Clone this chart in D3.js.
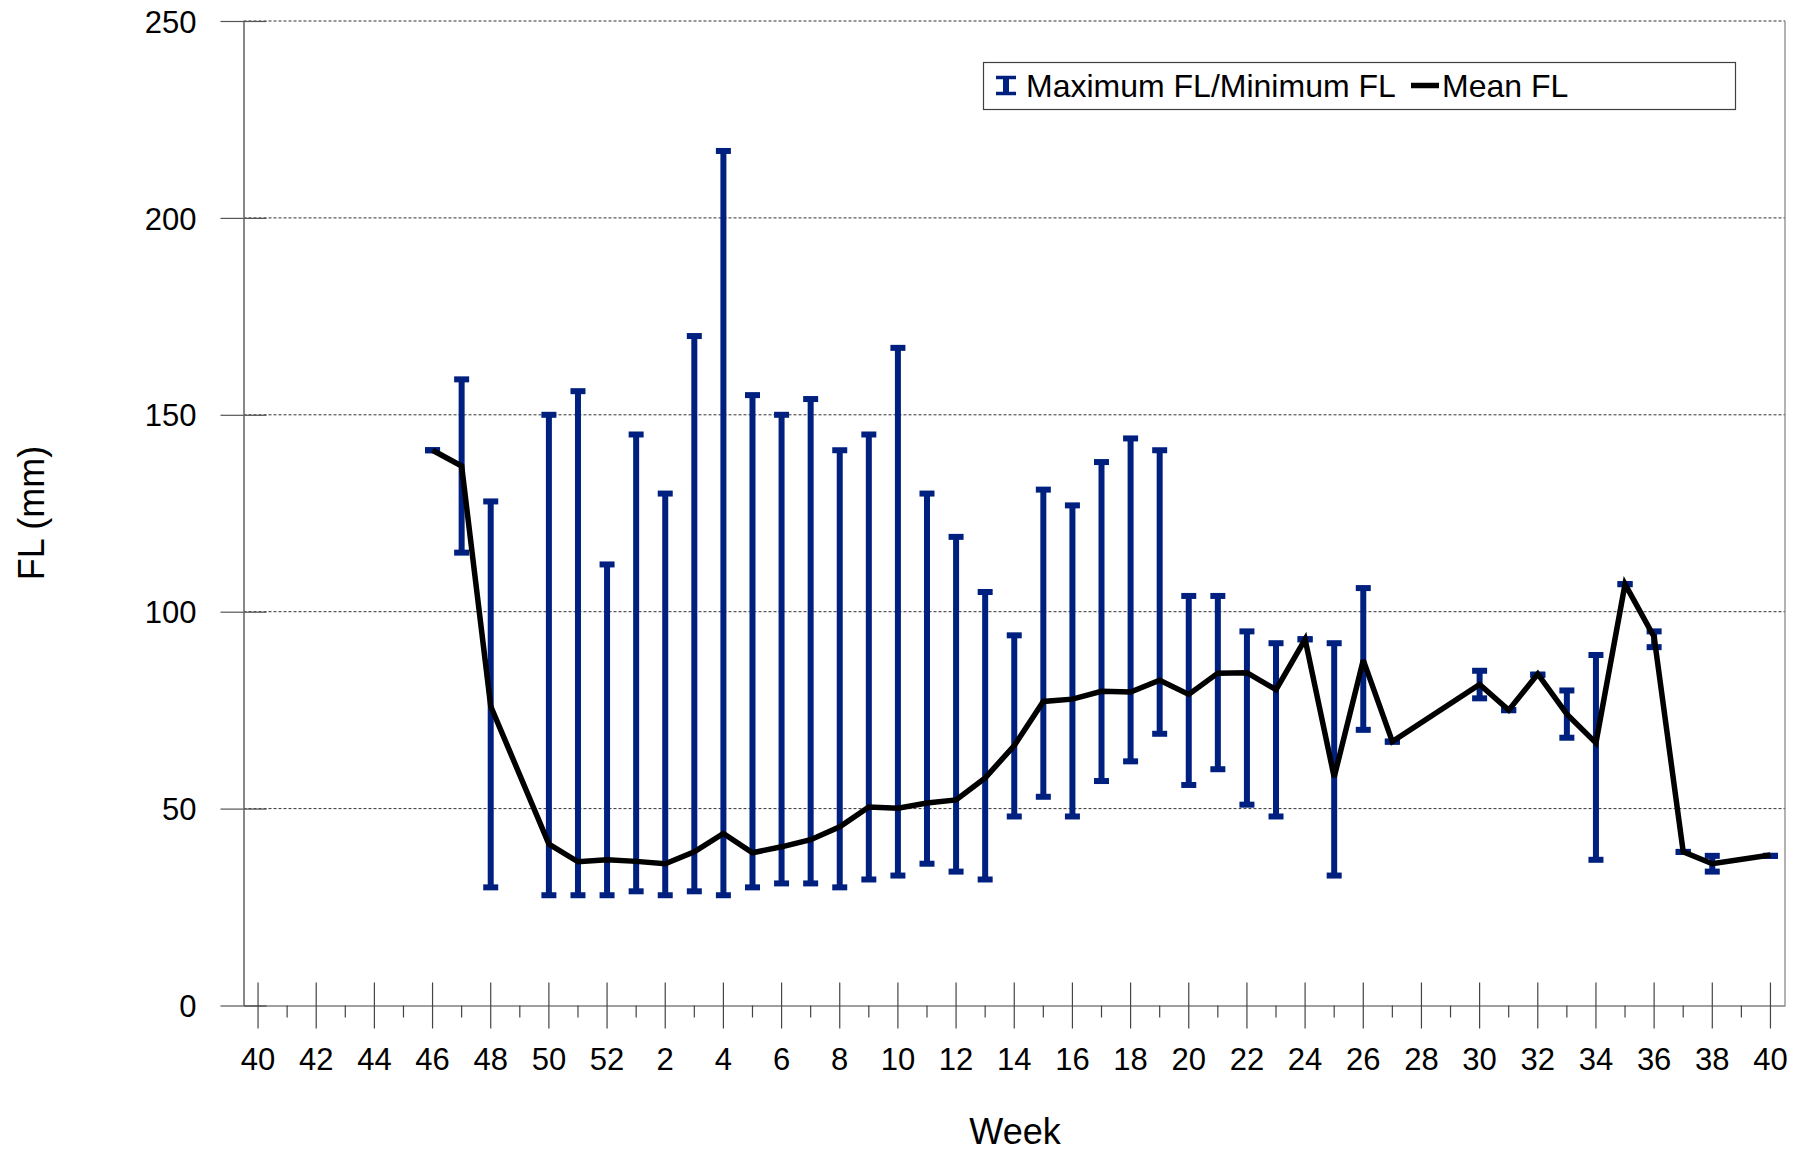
<!DOCTYPE html>
<html>
<head>
<meta charset="utf-8">
<script src="https://cdn.jsdelivr.net/npm/d3@7"></script>
<style>
  body { margin: 0; background: #fff; }
  svg text { font-family: 'Liberation Sans', Arial, sans-serif; fill: #000; }
</style>
</head>
<body>
<svg id="chart" width="1809" height="1152"></svg>
<script>
// week numbers along the x axis (season runs from week 40 to week 40 of next year)
const weeks = [40, 41, 42, 43, 44, 45, 46, 47, 48, 49, 50, 51, 52,
    1, 2, 3, 4, 5, 6, 7, 8, 9, 10, 11, 12, 13, 14, 15, 16, 17, 18, 19, 20,
    21, 22, 23, 24, 25, 26, 27, 28, 29, 30, 31, 32, 33, 34, 35, 36, 37, 38, 39, 40];

const maxFL = [null, null, null, null, null, null, 141, 159, 128, null, 150, 156, 112,
    145, 130, 170, 217, 155, 150, 154, 141, 145, 167, 130, 119, 105, 94, 131, 127, 138, 144, 141, 104,
    104, 95, 92, 93, 92, 106, 67, null, null, 85, 75, 84, 80, 89, 107, 95, 39, 38, null, 38];

const minFL = [null, null, null, null, null, null, 141, 115, 30, null, 28, 28, 28,
    29, 28, 29, 28, 30, 31, 31, 30, 32, 33, 36, 34, 32, 48, 53, 48, 57, 62, 69, 56,
    60, 51, 48, 93, 33, 70, 67, null, null, 78, 75, 84, 68, 37, 107, 91, 39, 34, null, 38];

const meanFL = [null, null, null, null, null, null, 141, 137, 76, null, 41, 36.5, 37,
    36.6, 36, 39, 43.7, 38.8, 40.3, 42.1, 45.4, 50.4, 50.1, 51.4, 52.2, 57.8, 66, 77.2, 77.8, 79.8, 79.6, 82.6, 79,
    84.4, 84.5, 80.2, 93, 58, 87.7, 67, null, null, 81.5, 75, 84.2, 74, 66.7, 107, 93.6, 39, 36, null, 38.2];

const yTicks = [0, 50, 100, 150, 200, 250];

const plot = { left: 243.5, right: 1785, top: 21, bottom: 1005.5 };
const barColor = '#00207f';
const capWidth = 15;

const svg = d3.select('#chart');
const idx = d3.range(weeks.length);

const x = d3.scaleBand()
    .domain(idx)
    .range([plot.left, plot.right]);
const y = d3.scaleLinear()
    .domain([0, 250])
    .range([plot.bottom, plot.top]);
const cx = i => x(i) + x.bandwidth() / 2;

// dashed gridlines
svg.append('g')
    .selectAll('line')
    .data(yTicks.filter(v => v > 0))
    .enter()
    .append('line')
    .attr('x1', plot.left)
    .attr('x2', plot.right)
    .attr('y1', d => y(d))
    .attr('y2', d => y(d))
    .attr('stroke', '#333')
    .attr('stroke-width', 1)
    .attr('stroke-dasharray', '3,2');

// right border of the plot area
svg.append('line')
    .attr('x1', plot.right)
    .attr('x2', plot.right)
    .attr('y1', plot.top)
    .attr('y2', plot.bottom)
    .attr('stroke', '#808080')
    .attr('stroke-width', 1.2);

// y axis, tick marks cross the axis
const yLeft = svg.append('g')
    .attr('transform', `translate(${plot.left},0)`)
    .call(d3.axisLeft(y).tickValues(yTicks).tickSize(23).tickSizeOuter(0).tickPadding(24));
const yRight = svg.append('g')
    .attr('transform', `translate(${plot.left},0)`)
    .call(d3.axisRight(y).tickValues(yTicks).tickSize(23).tickSizeOuter(0).tickFormat(''));

[yLeft, yRight].forEach(g => {
    g.select('.domain').attr('stroke', '#808080').attr('stroke-width', 1.5);
    g.selectAll('.tick line').attr('stroke', '#555').attr('stroke-width', 1.2);
});
yLeft.selectAll('.tick text')
    .style('font-size', '31px')
    .style('font-family', "'Liberation Sans', Arial, sans-serif")
    .attr('dy', '0.36em');

// x axis: long crossing ticks on labelled weeks, short ticks between
const xAxis = svg.append('g')
    .attr('transform', `translate(0,${plot.bottom})`)
    .call(d3.axisBottom(x)
        .tickValues(idx)
        .tickSize(23)
        .tickSizeOuter(0)
        .tickPadding(19.5)
        .tickFormat(i => (i % 2 === 0 ? weeks[i] : '')));

xAxis.select('.domain').attr('stroke', '#404040').attr('stroke-width', 1.2);
xAxis.selectAll('.tick line')
    .attr('stroke', '#444')
    .attr('stroke-width', 1.2)
    .attr('y1', i => (i % 2 === 0 ? -23 : 0))
    .attr('y2', i => (i % 2 === 0 ? 23 : 12));
xAxis.selectAll('.tick text')
    .style('font-size', '31px')
    .style('font-family', "'Liberation Sans', Arial, sans-serif");

// error bars: max / min
const bars = svg.append('g')
    .selectAll('g')
    .data(idx.filter(i => maxFL[i] !== null))
    .enter()
    .append('g');

bars.append('line')
    .attr('x1', cx)
    .attr('x2', cx)
    .attr('y1', i => y(maxFL[i]))
    .attr('y2', i => y(minFL[i]))
    .attr('stroke', barColor)
    .attr('stroke-width', 6);

['max', 'min'].forEach(key => {
    const values = key === 'max' ? maxFL : minFL;
    bars.append('line')
        .attr('x1', i => cx(i) - capWidth / 2)
        .attr('x2', i => cx(i) + capWidth / 2)
        .attr('y1', i => y(values[i]))
        .attr('y2', i => y(values[i]))
        .attr('stroke', barColor)
        .attr('stroke-width', 6);
});

// mean line, joined across missing weeks
const meanLine = d3.line()
    .x(cx)
    .y(i => y(meanFL[i]));

svg.append('path')
    .datum(idx.filter(i => meanFL[i] !== null))
    .attr('d', meanLine)
    .attr('fill', 'none')
    .attr('stroke', '#000')
    .attr('stroke-width', 5.5)
    .attr('stroke-linejoin', 'miter')
    .attr('stroke-miterlimit', 3);

// legend
const legend = svg.append('g');
legend.append('rect')
    .attr('x', 983.5)
    .attr('y', 62.5)
    .attr('width', 752)
    .attr('height', 47)
    .attr('fill', '#fff')
    .attr('stroke', '#404040')
    .attr('stroke-width', 1.2);

legend.append('line')
    .attr('x1', 1006).attr('x2', 1006)
    .attr('y1', 76).attr('y2', 95)
    .attr('stroke', barColor)
    .attr('stroke-width', 6);
[77.5, 93.5].forEach(yy => {
    legend.append('line')
        .attr('x1', 996).attr('x2', 1016)
        .attr('y1', yy).attr('y2', yy)
        .attr('stroke', barColor)
        .attr('stroke-width', 3.5);
});
legend.append('text')
    .attr('x', 1026)
    .attr('y', 97)
    .style('font-size', '32px')
    .text('Maximum FL/Minimum FL');

legend.append('line')
    .attr('x1', 1411).attr('x2', 1439)
    .attr('y1', 85.5).attr('y2', 85.5)
    .attr('stroke', '#000')
    .attr('stroke-width', 5.5);
legend.append('text')
    .attr('x', 1442)
    .attr('y', 97)
    .style('font-size', '32px')
    .text('Mean FL');

// axis titles
svg.append('text')
    .attr('x', 1015)
    .attr('y', 1144)
    .attr('text-anchor', 'middle')
    .style('font-size', '36px')
    .text('Week');

svg.append('text')
    .attr('transform', 'translate(44,513) rotate(-90)')
    .attr('text-anchor', 'middle')
    .style('font-size', '36px')
    .text('FL (mm)');
</script>
</body>
</html>
